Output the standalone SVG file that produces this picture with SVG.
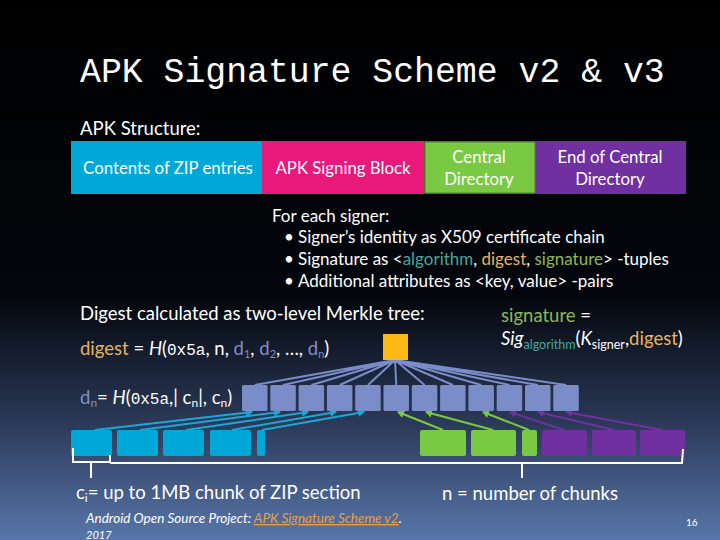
<svg xmlns="http://www.w3.org/2000/svg" width="720" height="540" viewBox="0 0 720 540">
<defs>
<linearGradient id="bg" x1="0" y1="0" x2="0" y2="1">
<stop offset="0" stop-color="#000000"/>
<stop offset="0.55" stop-color="#03060c"/>
<stop offset="0.78" stop-color="#2b3957"/>
<stop offset="1" stop-color="#5876aa"/>
</linearGradient>
<marker id="ac" markerWidth="8" markerHeight="8" refX="6" refY="4" orient="auto" markerUnits="userSpaceOnUse"><path d="M0,0 L7,4 L0,8 z" fill="#1aa8d8"/></marker>
<marker id="ag" markerWidth="8" markerHeight="8" refX="6" refY="4" orient="auto" markerUnits="userSpaceOnUse"><path d="M0,0 L7,4 L0,8 z" fill="#7ac943"/></marker>
<marker id="ap" markerWidth="8" markerHeight="8" refX="6" refY="4" orient="auto" markerUnits="userSpaceOnUse"><path d="M0,0 L7,4 L0,8 z" fill="#7030a0"/></marker>
</defs>
<style>
text{font-family:Lato,"Open Sans","Liberation Sans",sans-serif;fill:#ffffff}
.mono{font-family:"Liberation Mono","DejaVu Sans Mono",monospace}
.bx{font-size:16.8px}
.t17{font-size:17px}
.t18{font-size:18.5px}
.c{text-anchor:middle}
.mid{fill:#7b8dc8}
.cy{fill:#00a8d8}
.gr{fill:#7ac943}
.pu{fill:#7030a0}
.fan{stroke:#7b8dc8;stroke-width:2;fill:none}
.lc{stroke:#1aa8d8;stroke-width:2;fill:none;marker-end:url(#ac)}
.lg{stroke:#7ac943;stroke-width:2;fill:none;marker-end:url(#ag)}
.lp{stroke:#7030a0;stroke-width:2;fill:none;marker-end:url(#ap)}
.br{stroke:#ffffff;stroke-width:2;fill:none}
.orn{fill:#e6b45e}
.blu{fill:#8090c8}
.teal{fill:#47a89e}
.grn{fill:#8db85a}
</style>
<rect x="0" y="0" width="720" height="540" fill="url(#bg)"/>

<text class="mono" x="80" y="82" font-size="34.8">APK Signature Scheme v2 &amp; v3</text>
<text x="80" y="135" font-size="18.5">APK Structure:</text>

<g id="zip-entries"><rect x="71" y="141" width="191" height="53" fill="#00a8d8"/><text class="bx c" x="168" y="174">Contents of ZIP entries</text></g>
<g id="signing-block"><rect x="262" y="141" width="162" height="53" fill="#e8197a"/><text class="bx c" x="343" y="174">APK Signing Block</text></g>
<g id="central-dir"><rect x="425" y="142" width="110" height="51" fill="#7ac943" stroke="#5e9a34" stroke-width="1.5"/><text class="bx c" x="479" y="163">Central</text><text class="bx c" x="479" y="185">Directory</text></g>
<g id="eocd"><rect x="536" y="141" width="150" height="53" fill="#7030a0"/><text class="bx c" x="610" y="163">End of Central</text><text class="bx c" x="610" y="185">Directory</text></g>

<g id="signer-info">
<text class="t17" x="272" y="222">For each signer:</text>
<text class="t17" x="284" y="243">•</text><text class="t17" x="298" y="243">Signer’s identity as X509 certificate chain</text>
<text class="t17" x="284" y="265">•</text><text class="t17" x="298" y="265">Signature as &lt;<tspan class="teal">algorithm</tspan>, <tspan class="orn">digest</tspan>, <tspan class="grn">signature</tspan>&gt; -tuples</text>
<text class="t17" x="284" y="287">•</text><text class="t17" x="298" y="287">Additional attributes  as &lt;key, value&gt; -pairs</text>
</g>

<text class="t18" x="80" y="320">Digest calculated as two-level Merkle tree:</text>
<text class="t18" x="80" y="355"><tspan class="orn">digest</tspan> = <tspan font-style="italic">H</tspan>(<tspan class="mono" font-size="16">0x5a</tspan>, n, <tspan class="blu">d<tspan font-size="11" dy="3">1</tspan></tspan><tspan dy="-3">, </tspan><tspan class="blu">d<tspan font-size="11" dy="3">2</tspan></tspan><tspan dy="-3">, …, </tspan><tspan class="blu">d<tspan font-size="11" dy="3">n</tspan></tspan><tspan dy="-3">)</tspan></text>

<text class="t18" x="501" y="322"><tspan class="grn">signature</tspan> =</text>
<text class="t18" x="501" y="345"><tspan font-style="italic">Sig</tspan><tspan class="teal" font-size="12.5" dy="4">algorithm</tspan><tspan dy="-4">(</tspan><tspan font-style="italic">K</tspan><tspan font-size="12.5" dy="4">signer</tspan><tspan dy="-4">,</tspan><tspan class="orn">digest</tspan>)</text>

<text class="t18" x="80" y="404"><tspan class="blu">d<tspan font-size="12" dy="3">n</tspan></tspan><tspan dy="-3">= </tspan><tspan font-style="italic">H</tspan>(<tspan class="mono" font-size="16">0x5a</tspan>,| c<tspan font-size="12" dy="3">n</tspan><tspan dy="-3">|, c</tspan><tspan font-size="12" dy="3">n</tspan><tspan dy="-3">)</tspan></text>

<g id="connectors">
<path class="fan" d="M395,360 L254.8,385 M395,360 L283.1,385 M395,360 L311.4,385 M395,360 L339.7,385 M395,360 L368,385 M395,360 L396.3,385 M395,360 L424.6,385 M395,360 L452.9,385 M395,360 L481.2,385 M395,360 L509.5,385 M395,360 L537.8,385 M395,360 L566.1,385"/>
<line class="lc" x1="95" y1="430" x2="252" y2="412"/>
<line class="lc" x1="140" y1="430" x2="280" y2="412"/>
<line class="lc" x1="186" y1="430" x2="308" y2="412"/>
<line class="lc" x1="232" y1="430" x2="336" y2="412"/>
<line class="lc" x1="262" y1="430" x2="364" y2="412"/>
<line class="lg" x1="443" y1="430" x2="398" y2="412"/>
<line class="lg" x1="493" y1="430" x2="426" y2="412"/>
<line class="lg" x1="529" y1="430" x2="483" y2="412"/>
<line class="lp" x1="564" y1="430" x2="510" y2="412"/>
<line class="lp" x1="614" y1="430" x2="538" y2="412"/>
<line class="lp" x1="662" y1="430" x2="566" y2="412"/>
</g>

<g id="root"><rect x="383" y="334" width="25" height="26" fill="#fdb913"/></g>

<g id="level1">
<rect class="mid" x="242" y="385" width="25.5" height="26" rx="1.5"/>
<rect class="mid" x="270.3" y="385" width="25.5" height="26" rx="1.5"/>
<rect class="mid" x="298.6" y="385" width="25.5" height="26" rx="1.5"/>
<rect class="mid" x="326.9" y="385" width="25.5" height="26" rx="1.5"/>
<rect class="mid" x="355.2" y="385" width="25.5" height="26" rx="1.5"/>
<rect class="mid" x="383.5" y="385" width="25.5" height="26" rx="1.5"/>
<rect class="mid" x="411.8" y="385" width="25.5" height="26" rx="1.5"/>
<rect class="mid" x="440.1" y="385" width="25.5" height="26" rx="1.5"/>
<rect class="mid" x="468.4" y="385" width="25.5" height="26" rx="1.5"/>
<rect class="mid" x="496.7" y="385" width="25.5" height="26" rx="1.5"/>
<rect class="mid" x="525" y="385" width="25.5" height="26" rx="1.5"/>
<rect class="mid" x="553.3" y="385" width="25.5" height="26" rx="1.5"/>
</g>

<g id="chunks">
<rect class="cy" x="71" y="430" width="41" height="26" rx="2"/>
<rect class="cy" x="117" y="430" width="41" height="26" rx="2"/>
<rect class="cy" x="163" y="430" width="41" height="26" rx="2"/>
<rect class="cy" x="210" y="430" width="41" height="26" rx="2"/>
<rect class="cy" x="257" y="430" width="8" height="26" rx="2"/>
<rect class="gr" x="420" y="430" width="46" height="26" rx="2"/>
<rect class="gr" x="471" y="430" width="45" height="26" rx="2"/>
<rect class="gr" x="522" y="430" width="15" height="26" rx="2"/>
<rect class="pu" x="542" y="430" width="45" height="26" rx="2"/>
<rect class="pu" x="592" y="430" width="44" height="26" rx="2"/>
<rect class="pu" x="640" y="430" width="45" height="26" rx="2"/>
</g>

<g id="braces">
<path class="br" d="M73,448 L73,462 L110,462 L110,455 M91,462 L91,478"/>
<path class="br" d="M110,463 L682,463 L683,449 M522,463 L522,478"/>
</g>

<text class="t18" x="76" y="499">c<tspan font-size="12" dy="3">i</tspan><tspan dy="-3">= up to 1MB chunk of ZIP section</tspan></text>
<text class="t18" x="442" y="500">n = number of chunks</text>

<text x="86" y="523" font-size="13.5" font-style="italic">Android Open Source Project: <tspan fill="#e8a040" text-decoration="underline">APK Signature Scheme v2</tspan>.</text>
<text x="86" y="538.5" font-size="11" font-style="italic">2017</text>
<text x="686" y="526" font-size="10">16</text>
</svg>
